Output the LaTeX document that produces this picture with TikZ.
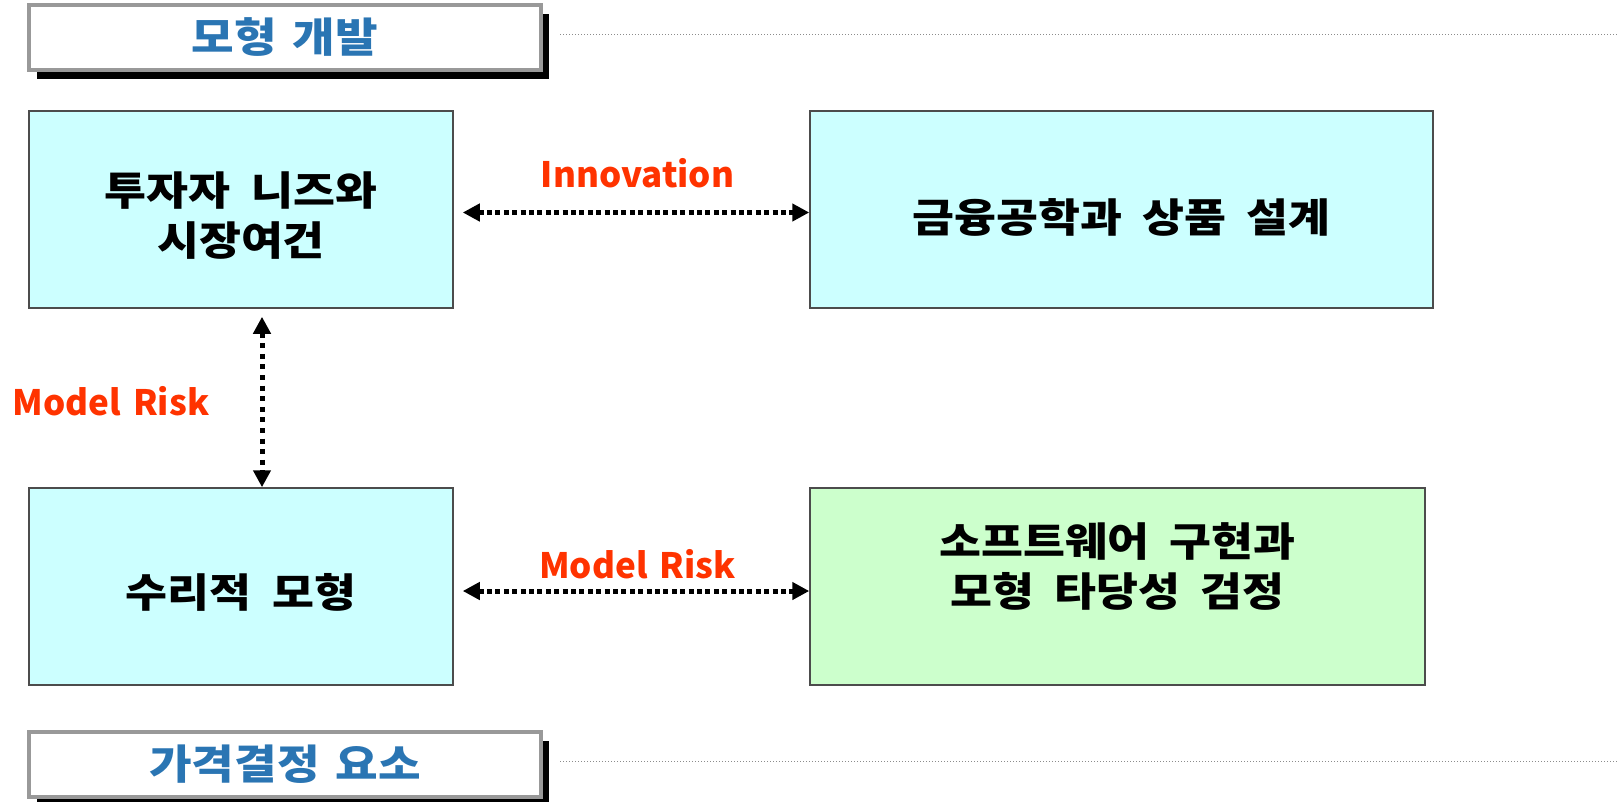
\documentclass[tikz,border=0pt]{standalone}
\usepackage{fontspec}
\newfontfamily\boxfont{Noto Sans CJK KR}[FakeStretch=1.14, WordSpace=1.95]
\newfontfamily\headfont{Noto Sans CJK KR}[FakeStretch=1.13, WordSpace=1.5]
\newfontfamily\riskfont{Noto Sans CJK KR}[WordSpace=1.5]
\usepackage{tikz}
\usetikzlibrary{arrows.meta, shadows, calc, positioning}
\definecolor{headblue}{HTML}{2A75B3}
\definecolor{riskred}{HTML}{FF3300}
\definecolor{boxcyan}{HTML}{CCFFFF}
\definecolor{boxgreen}{HTML}{CCFFCC}
% box text, lifted by #1 from the box centre
\newcommand{\boxlines}[2]{\raisebox{#1}[0pt][0pt]{\begin{tabular}{@{}c@{}}#2\end{tabular}}}

\begin{document}
\begin{tikzpicture}[x=1pt, y=-1pt]
    \tikzstyle{headbox} = [rectangle, minimum width=512pt, minimum height=65pt, draw=black!40, line width=4pt, fill=white, text=headblue, font=\headfont\fontsize{41}{48}\selectfont\bfseries, drop shadow={shadow xshift=8pt, shadow yshift=-9pt, fill=black, opacity=1}]
    \tikzstyle{cyanbox} = [rectangle, minimum width=424pt, minimum height=197pt, draw=black!70, line width=1.5pt, fill=boxcyan, inner sep=0pt, font=\boxfont\fontsize{40}{50}\selectfont\bfseries]
    \tikzstyle{greenbox} = [cyanbox, fill=boxgreen]
    \tikzstyle{redlabel} = [text=riskred, font=\riskfont\fontsize{35}{40}\selectfont\bfseries, inner sep=0pt]
    \tikzstyle{arrow} = [line width=5pt, dash pattern=on 5pt off 3.4pt, {Triangle[length=17pt, width=17pt]}-{Triangle[length=17pt, width=17pt]}]
    \tikzstyle{rule} = [black!45, line width=1pt, dash pattern=on 1pt off 2pt]
    \useasboundingbox (0,0) rectangle (1619,801);
    % Headers
    \node (devhead) [headbox] at (285,37.5) {모형 개발};
    \node (pricehead) [headbox] at (285,764.5) {가격결정 요소};
    \coordinate (devend) at (1619,34);
    \coordinate (priceend) at (1619,761);
    \draw [rule] ($(devhead.east)+(17pt,3.5pt)$) -- (devend);
    \draw [rule] ($(pricehead.east)+(17pt,3.5pt)$) -- (priceend);
    % Boxes
    \node (needs) [cyanbox] at (241,209.5) {\boxlines{-17pt}{투자자 니즈와\\시장여건}};
    \node (design) [cyanbox, minimum width=623pt] at (1121.5,209.5) {\boxlines{-19pt}{금융공학과 상품 설계}};
    \node (mathmodel) [cyanbox] at (241,586.5) {\boxlines{-17pt}{수리적 모형}};
    \node (software) [greenbox, minimum width=615pt] at (1117.5,586.5) {\boxlines{9pt}{소프트웨어 구현과\\모형 타당성 검정}};
    % Arrows
    \draw [arrow, shorten <=9pt] ([yshift=-3pt]needs.east) -- node[redlabel, anchor=base, xshift=6pt, yshift=25pt] {Innovation} ([yshift=-3pt]design.west);
    \draw [arrow, dash pattern=on 5pt off 5.6pt, shorten <=8pt] ([xshift=21pt]needs.south) -- ([xshift=21pt]mathmodel.north);
    \node (sidelabel) [redlabel, anchor=base] at (111,415) {Model Risk};
    \draw [arrow, shorten <=9pt] ([yshift=-4.5pt]mathmodel.east) -- node[redlabel, anchor=base, xshift=6pt, yshift=13pt] {Model Risk} ([yshift=-4.5pt]software.west);
\end{tikzpicture}
\end{document}
